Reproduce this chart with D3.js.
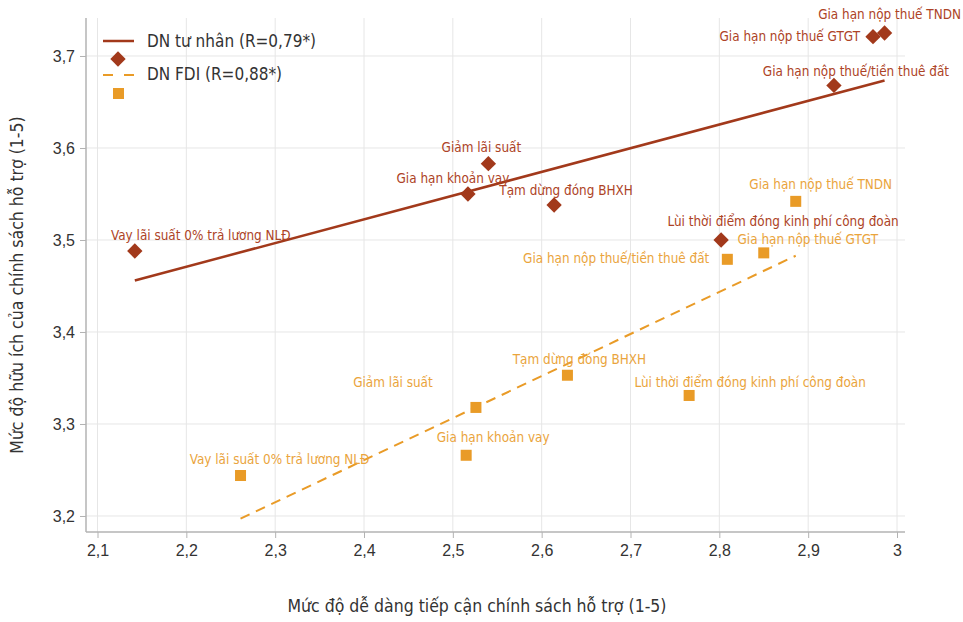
<!DOCTYPE html>
<html><head><meta charset="utf-8">
<script src="https://cdn.jsdelivr.net/npm/d3@7"></script>
<style>
html,body{margin:0;padding:0;background:#fff;}
svg{display:block;font-family:"Liberation Sans Narrow","DejaVu Sans Condensed","Roboto",sans-serif;}
</style></head>
<body><svg id="c" width="963" height="622"></svg>
<script>
const policies = [
  "Vay lãi suất 0% trả lương NLĐ",
  "Giảm lãi suất",
  "Gia hạn khoản vay",
  "Tạm dừng đóng BHXH",
  "Lùi thời điểm đóng kinh phí công đoàn",
  "Gia hạn nộp thuế/tiền thuê đất",
  "Gia hạn nộp thuế GTGT",
  "Gia hạn nộp thuế TNDN"
];
// DN tư nhân (private)
const privateAccess = [2.142, 2.540, 2.517, 2.614, 2.802, 2.929, 2.973, 2.986];
const privateUseful = [3.488, 3.583, 3.550, 3.538, 3.500, 3.668, 3.721, 3.725];
// DN FDI
const fdiAccess = [2.261, 2.526, 2.515, 2.629, 2.766, 2.809, 2.850, 2.886];
const fdiUseful = [3.244, 3.318, 3.266, 3.353, 3.331, 3.479, 3.486, 3.542];

const xTicks = [2.1, 2.2, 2.3, 2.4, 2.5, 2.6, 2.7, 2.8, 2.9, 3.0];
const yTicks = [3.2, 3.3, 3.4, 3.5, 3.6, 3.7];
const seriesNames = ["DN tư nhân (R=0,79*)", "DN FDI (R=0,88*)"];
const xTitle = "Mức độ dễ dàng tiếp cận chính sách hỗ trợ (1-5)";
const yTitle = "Mức độ hữu ích của chính sách hỗ trợ (1-5)";

// label placement offsets (pixels relative to point): [dx, dy, anchor]
const privateLabelPos = [
  [66,-16,"middle"],[-7,-16,"middle"],[-15,-16,"middle"],[12,-15,"middle"],
  [62,-19,"middle"],[22,-14,"middle"],[-13,0,"end"],[5,-19,"middle"]
];
const fdiLabelPos = [
  [39,-16,"middle"],[-83,-25,"middle"],[27,-18,"middle"],[12,-16,"middle"],
  [61,-13,"middle"],[-18,-1,"end"],[44,-14,"middle"],[25,-17,"middle"]
];

const C_PRIV = "#a2391b", C_PRIV_T = "#ad4326";
const C_FDI = "#e99b27", C_FDI_T = "#eaa43c";

const svg = d3.select("#c");
const L = 86, R = 905, T = 18, B = 532;
const x = d3.scaleLinear().domain([2.08705, 3.0090]).range([L, R]);
const y = d3.scaleLinear().domain([3.1826, 3.7413]).range([B, T]);

// grid
svg.append("g").selectAll("line").data(xTicks).join("line")
  .attr("x1", d => x(d)).attr("x2", d => x(d)).attr("y1", T).attr("y2", B)
  .attr("stroke", "#e6e6e6").attr("stroke-width", 1);
svg.append("g").selectAll("line").data(yTicks).join("line")
  .attr("x1", L).attr("x2", R).attr("y1", d => y(d)).attr("y2", d => y(d))
  .attr("stroke", "#e6e6e6").attr("stroke-width", 1);

const fmt = d => d3.format("")(+d.toFixed(1)).replace(".", ",");
const xAxis = svg.append("g").attr("transform", `translate(0,${B})`)
  .call(d3.axisBottom(x).tickValues(xTicks).tickFormat(fmt).tickSizeOuter(0).tickSize(6).tickPadding(7));
const yAxis = svg.append("g").attr("transform", `translate(${L},0)`)
  .call(d3.axisLeft(y).tickValues(yTicks).tickFormat(fmt).tickSizeOuter(0).tickSize(6).tickPadding(5));
[xAxis, yAxis].forEach(a => {
  a.select(".domain").attr("stroke", "#b3b3b3").attr("stroke-width", 1.5);
  a.selectAll(".tick line").attr("stroke", "#b3b3b3");
  a.selectAll("text").attr("font-size", 16).attr("fill", "#333")
    .attr("font-family", "inherit");
});
yAxis.select(".domain").attr("d", `M0,${T}V${B}`);
xAxis.select(".domain").attr("d", `M${L},0H${R}`);

// titles
svg.append("text").attr("x", 477).attr("y", 612).attr("text-anchor", "middle")
  .attr("font-size", 17.5).attr("fill", "#333").text(xTitle);
svg.append("text").attr("transform", `translate(23,${(T + B) / 2 + 10}) rotate(-90)`)
  .attr("text-anchor", "middle").attr("font-size", 17.5).attr("fill", "#333").text(yTitle);

function regression(xs, ys) {
  const mx = d3.mean(xs), my = d3.mean(ys);
  let sxy = 0, sxx = 0;
  xs.forEach((v, i) => { sxy += (v - mx) * (ys[i] - my); sxx += (v - mx) ** 2; });
  const b = sxy / sxx, a = my - b * mx;
  const x0 = d3.min(xs), x1 = d3.max(xs);
  return [[x0, a + b * x0], [x1, a + b * x1]];
}
const line = d3.line().x(d => x(d[0])).y(d => y(d[1]));

svg.append("path").datum(regression(privateAccess, privateUseful)).attr("d", line)
  .attr("stroke", C_PRIV).attr("stroke-width", 2.5).attr("fill", "none");
svg.append("path").datum(regression(fdiAccess, fdiUseful)).attr("d", line)
  .attr("stroke", C_FDI).attr("stroke-width", 2).attr("fill", "none")
  .attr("stroke-dasharray", "10,7");

const priv = policies.map((p, i) => ({ p, x: privateAccess[i], y: privateUseful[i], pos: privateLabelPos[i] }));
const fdi = policies.map((p, i) => ({ p, x: fdiAccess[i], y: fdiUseful[i], pos: fdiLabelPos[i] }));

const diamond = d3.symbol().type(d3.symbolDiamond2).size(150);
svg.append("g").selectAll("path").data(priv).join("path")
  .attr("d", diamond).attr("transform", d => `translate(${x(d.x)},${y(d.y)})`)
  .attr("fill", C_PRIV);
svg.append("g").selectAll("rect").data(fdi).join("rect")
  .attr("x", d => x(d.x) - 5.5).attr("y", d => y(d.y) - 5.5)
  .attr("width", 11).attr("height", 11).attr("fill", C_FDI);

svg.append("g").selectAll("text").data(priv).join("text")
  .attr("x", d => x(d.x) + d.pos[0]).attr("y", d => y(d.y) + d.pos[1])
  .attr("dy", "0.35em").attr("text-anchor", d => d.pos[2])
  .attr("font-size", 13.4).attr("fill", C_PRIV_T).text(d => d.p);
svg.append("g").selectAll("text").data(fdi).join("text")
  .attr("x", d => x(d.x) + d.pos[0]).attr("y", d => y(d.y) + d.pos[1])
  .attr("dy", "0.35em").attr("text-anchor", d => d.pos[2])
  .attr("font-size", 13.4).attr("fill", C_FDI_T).text(d => d.p);

// legend
const lg = svg.append("g");
lg.append("line").attr("x1", 103).attr("x2", 134).attr("y1", 41).attr("y2", 41)
  .attr("stroke", C_PRIV).attr("stroke-width", 2.5);
lg.append("path").attr("d", diamond).attr("transform", "translate(118,59)").attr("fill", C_PRIV);
lg.append("line").attr("x1", 103).attr("x2", 134).attr("y1", 75).attr("y2", 75)
  .attr("stroke", C_FDI).attr("stroke-width", 2).attr("stroke-dasharray", "10,11");
lg.append("rect").attr("x", 113).attr("y", 88).attr("width", 11).attr("height", 11).attr("fill", C_FDI);
lg.selectAll("text.l").data(seriesNames).join("text")
  .attr("x", 147).attr("y", (d, i) => 41 + i * 33).attr("dy", "0.35em")
  .attr("font-size", 17).attr("fill", "#333").text(d => d);
</script></body></html>
